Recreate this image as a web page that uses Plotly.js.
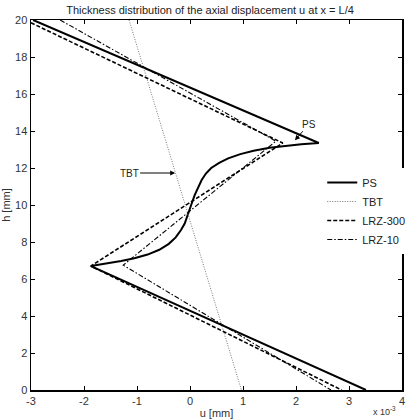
<!DOCTYPE html>
<html>
<head>
<meta charset="utf-8">
<script src="https://cdn.plot.ly/plotly-3.0.1.min.js"></script>
<style>html,body{margin:0;padding:0;background:#fff;}#chart{width:420px;height:420px;}</style>
</head>
<body>
<div id="chart"></div>
<script>
// Data
var psU = [-2.96, 2.43, 2.1, 1.8, 1.5, 1.2, 0.95, 0.72, 0.55, 0.4, 0.3, 0.22, 0.15, 0.09, 0.04, 0.0, -0.05, -0.1, -0.17, -0.27, -0.4, -0.58, -0.8, -1.05, -1.3, -1.6, -1.87, 3.32];
var psH = [20, 13.35, 13.28, 13.2, 13.1, 12.93, 12.75, 12.52, 12.28, 12.0, 11.7, 11.35, 10.95, 10.55, 10.15, 9.8, 9.4, 9.0, 8.65, 8.25, 7.9, 7.58, 7.32, 7.12, 6.97, 6.83, 6.7, 0];
var tbtU = [-1.15, 0.97];
var tbtH = [20, 0];
var lrz300U = [-3.0, 1.75, -1.87, 2.86];
var lrz300H = [19.85, 13.35, 6.7, 0];
var lrz10U = [-2.45, 1.62, -1.26, 2.66];
var lrz10H = [20, 13.45, 6.75, 0];
var xTicks = [-3, -2, -1, 0, 1, 2, 3, 4];
var yTicks = [0, 2, 4, 6, 8, 10, 12, 14, 16, 18, 20];

var FONT = 'Liberation Sans, Arial, sans-serif';

var traces = [
  {x: psU, y: psH, name: 'PS', mode: 'lines', line: {color: '#000', width: 2}},
  {x: tbtU, y: tbtH, name: 'TBT', mode: 'lines', line: {color: '#777', width: 1, dash: '1px,1.5px'}},
  {x: lrz300U, y: lrz300H, name: 'LRZ-300', mode: 'lines', line: {color: '#000', width: 1.6, dash: '4px,2px'}},
  {x: lrz10U, y: lrz10H, name: 'LRZ-10', mode: 'lines', line: {color: '#000', width: 1.1, dash: '5px,2px,1.5px,2px'}}
];

var axisCommon = {
  showgrid: false, zeroline: false, showline: true, linecolor: '#000', linewidth: 1.5,
  mirror: 'ticks', ticks: 'inside', ticklen: 4, tickcolor: '#000', tickwidth: 1,
  tickfont: {family: FONT, size: 11, color: '#333'}
};

var layout = {
  width: 420, height: 420,
  margin: {l: 31, r: 10, t: 20, b: 30},
  paper_bgcolor: '#fff', plot_bgcolor: '#fff',
  title: {text: 'Thickness distribution of the axial displacement u at x = L/4',
          font: {family: FONT, size: 11, color: '#222'}, x: 0.5, xanchor: 'center', y: 0.977, yanchor: 'middle'},
  xaxis: Object.assign({}, axisCommon, {range: [-3, 4], tickvals: xTicks, ticktext: xTicks.map(String),
    title: {text: 'u [mm]', font: {family: FONT, size: 11, color: '#333'}, standoff: 3}}),
  yaxis: Object.assign({}, axisCommon, {range: [0, 20], tickvals: yTicks, ticktext: yTicks.map(String),
    title: {text: 'h [mm]', font: {family: FONT, size: 11, color: '#333'}, standoff: 2}}),
  showlegend: true,
  legend: {x: 0.785, y: 0.6, xanchor: 'left', yanchor: 'top', bgcolor: 'rgba(255,255,255,1)',
    borderwidth: 0, font: {family: FONT, size: 11, color: '#222'}, tracegroupgap: 0, itemwidth: 30},
  shapes: [
    {type: 'line', xref: 'paper', yref: 'paper', x0: 0.79, x1: 0.99, y0: 0.59, y1: 0.59, line: {color: '#999', width: 1}},
    {type: 'line', xref: 'paper', yref: 'paper', x0: 0.79, x1: 0.99, y0: 0.405, y1: 0.405, line: {color: '#999', width: 1}}
  ],
  annotations: [
    {x: 1.98, y: 13.5, ax: 14, ay: -16, xref: 'x', yref: 'y', text: 'PS', showarrow: true,
     arrowhead: 2, arrowsize: 1, arrowwidth: 1, arrowcolor: '#000', font: {family: FONT, size: 10, color: '#222'}},
    {x: -0.28, y: 11.73, ax: -46, ay: 0, xref: 'x', yref: 'y', text: 'TBT', showarrow: true,
     arrowhead: 2, arrowsize: 1, arrowwidth: 1, arrowcolor: '#000', font: {family: FONT, size: 10, color: '#222'}},
    {x: 1.0, y: -0.0784, xref: 'paper', yref: 'paper', xanchor: 'right', yanchor: 'bottom', xshift: -4,
     text: 'x 10<sup>-3</sup>', showarrow: false, font: {family: FONT, size: 9, color: '#333'}}
  ]
};

Plotly.newPlot('chart', traces, layout, {displayModeBar: false, staticPlot: true});
</script>
</body>
</html>
